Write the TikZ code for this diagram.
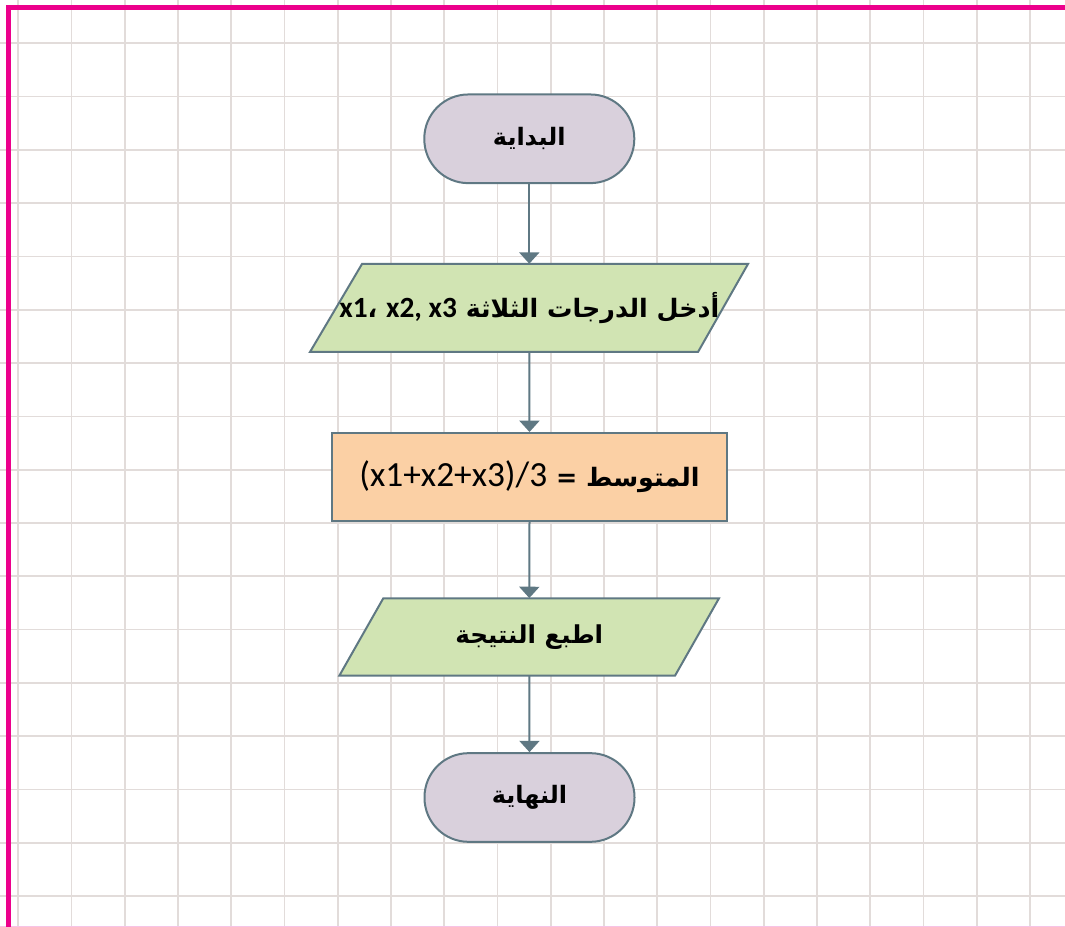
\documentclass[tikz,border=0pt]{standalone}
\usepackage{fontspec}
\setmainfont{Carlito}
\newfontfamily\arfont[Script=Arabic]{DejaVu Sans}
\TeXXeTstate=1
\usetikzlibrary{arrows.meta,backgrounds}
\definecolor{gridc}{HTML}{E2DCDA}
\definecolor{mag}{HTML}{EC008C}
\definecolor{pinkl}{HTML}{F7C3E6}
\definecolor{edgec}{HTML}{5F7883}
\definecolor{termfill}{HTML}{D9D0DC}
\definecolor{iofill}{HTML}{D1E4B3}
\definecolor{procfill}{HTML}{FBD0A5}
\begin{document}
\begin{tikzpicture}[x=0.75pt,y=-0.75pt,
  gridline/.style={draw=gridc,line width=1.3pt},
  term/.style={draw=edgec,fill=termfill,line width=1.5pt,rounded corners=33pt,
    minimum width=157.5pt,minimum height=66.5pt,inner sep=0pt},
  iotext/.style={inner sep=0pt,minimum height=66pt},
  ioshape/.style={draw=edgec,fill=iofill,line width=1.5pt,line join=miter},
  proc/.style={draw=edgec,fill=procfill,line width=1.5pt,
    minimum width=296pt,minimum height=66pt,inner sep=0pt},
  conn/.style={draw=edgec,line width=1.5pt,-{Triangle[width=15pt,length=8.5pt]}}
]
\useasboundingbox (0,0) rectangle (1065,927);
\fill[white] (0,0) rectangle (1065,927);
% grid
\foreach \i in {0,...,19}{\draw[gridline] ({18.3+53.25*\i},0) -- ({18.3+53.25*\i},927);}
\foreach \j in {0,...,16}{\draw[gridline] (0,{43.3+53.3*\j}) -- (1065,{43.3+53.3*\j});}
% frame
\draw[draw=pinkl,line width=1.4pt] (0,926.5) -- (1065,926.5);
\draw[draw=mag,line width=3.8pt] (8.5,927) -- (8.5,7.5) -- (1065,7.5);

% nodes
\node[term] (start) at (529.3,138.8) {\arfont\bfseries\fontsize{18}{22}\selectfont\beginR البداية\endR};

\draw[ioshape] (362,264) -- (748,264) -- (698,352) -- (310,352) -- cycle;
\node[iotext] (in) at (529.3,308) {\arfont\bfseries\fontsize{19}{22}\selectfont\beginR أدخل الدرجات الثلاثة \beginL{\rmfamily\bfseries\fontsize{22}{26}\selectfont x1}{\arfont،} {\rmfamily\bfseries\fontsize{22}{26}\selectfont x2, x3}\endL\endR};

\node[proc] (avg) at (529.5,477) {\arfont\bfseries\fontsize{19}{22}\selectfont\beginR المتوسط = \beginL{\rmfamily\mdseries\fontsize{26.5}{30}\selectfont(x1+x2+x3)/3}\endL\endR};

\draw[ioshape] (383.3,598.3) -- (719,598.3) -- (675,675.7) -- (339.3,675.7) -- cycle;
\node[iotext,minimum height=58pt] (out) at (529.3,637) {\arfont\bfseries\fontsize{18.5}{22}\selectfont\beginR اطبع النتيجة\endR};

\node[term] (end) at (529.5,797.5) {\arfont\bfseries\fontsize{18}{22}\selectfont\beginR النهاية\endR};

% connectors
\draw[conn] (start.south) -- (in.north);
\draw[conn] (in.south) -- (avg.north);
\draw[conn] (avg.south) -- (out.north);
\draw[conn] (out.south) -- (end.north);
\end{tikzpicture}
\end{document}
